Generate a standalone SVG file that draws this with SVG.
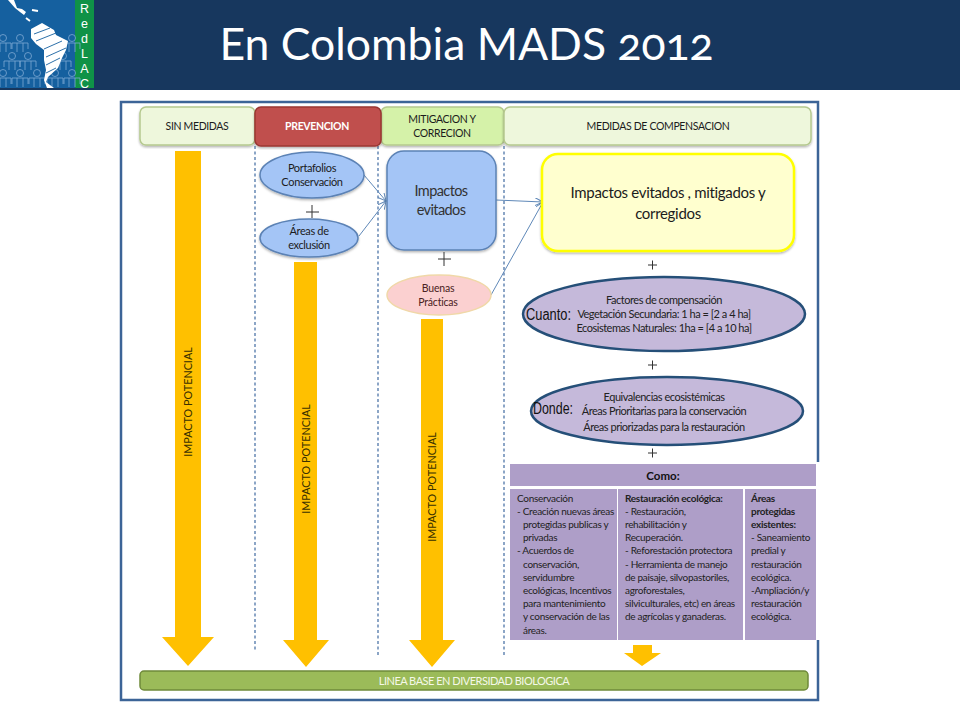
<svg xmlns="http://www.w3.org/2000/svg" width="960" height="720" viewBox="0 0 960 720">
<style>
text{font-family:"Lato","Carlito","Open Sans",sans-serif;fill:#1c1c1c;text-anchor:middle}
.h{font-size:10.500px;letter-spacing:-.35px}
.n{font-size:11px;letter-spacing:-.35px}
.s{font-size:10px;letter-spacing:-.3px;text-anchor:start;fill:#222}
.o{font-size:11px;letter-spacing:-.48px;fill:#222}
.big{font-size:14.500px;letter-spacing:-.6px;fill:#333}
.lab{font-family:"Liberation Sans",Arial,sans-serif;font-size:16px;text-anchor:start;fill:#111}
.v{font-size:10.800px;fill:#3a3000}
.plus{fill:none;stroke:#333;stroke-width:1}
.band{fill:#eef7dc;stroke:#b5c98e;stroke-width:1.5}
.sep{stroke:#4f76a8;stroke-width:1.3;stroke-dasharray:3 2.5;fill:none}
.con{stroke:#5f88b8;stroke-width:1;fill:none;marker-end:url(#a)}
.arr{fill:#ffc000}
.blue{fill:#a4c5f6;stroke:#5b82b5;stroke-width:1.5}
.pur{fill:#c5b9da;stroke:#254f78;stroke-width:2.5}
.cell{fill:#ae9ec8}
.logo{font-family:"Liberation Sans",Arial,sans-serif;font-size:12.500px;fill:#fff}
.p{fill:none;stroke:#7fa9d4;stroke-width:.8}
</style>
<defs>
<marker id="a" markerWidth="10" markerHeight="10" refX="8" refY="4" orient="auto" markerUnits="userSpaceOnUse"><path d="M0 0L8 4L0 8" fill="none" stroke="#5f88b8" stroke-width="1"/></marker>
<filter id="sh" x="-5%" y="-5%" width="110%" height="115%"><feDropShadow dx="0" dy="1.5" stdDeviation="1" flood-color="#000" flood-opacity=".3"/></filter>
<g id="man"><circle cx="0" cy="0" r="3.500"/><path d="M-8 5H8M-8 5V11M8 5V11M-3 5V14M3 5V14"/></g>
</defs>
<rect width="960" height="720" fill="#fff"/>
<rect width="960" height="90" fill="#17375e"/>

<g id="logo">
<rect width="75" height="88" fill="#15609f"/>
<rect x="75" width="19" height="88" fill="#0f9247"/>
<g class="p">
<use href="#man" x="3" y="38"/><use href="#man" x="20" y="38"/><use href="#man" x="72" y="38"/><use href="#man" x="12" y="56"/><use href="#man" x="28" y="56"/><use href="#man" x="63" y="56"/><use href="#man" x="3" y="73"/><use href="#man" x="20" y="73"/><use href="#man" x="37" y="73"/><use href="#man" x="55" y="73"/><use href="#man" x="72" y="73"/>
</g>
<path d="M8 0L15 8L20 12L24 15L26 12L22 9L17 8L14 0Z" fill="#fff"/>
<path d="M32 10L38 11M26 18L30 21" stroke="#fff" stroke-width="2"/>
<path d="M31 29L42 23L54 30L56 35L68 41L66 50L62 58L58 68L48 77L46 82L54 88H47L44 80L46 70L44 60L44 50L36 44L31 38Z" fill="#fff"/>
<path d="M34 34L50 28M36 41L56 33M44 49L62 41M46 57L66 48M46 65L60 58M46 73L56 68" stroke="#15609f" stroke-width=".9" fill="none"/>
<text class="logo" x="84.500" y="13">R</text><text class="logo" x="84.500" y="28">e</text><text class="logo" x="84.500" y="43">d</text><text class="logo" x="84.500" y="58">L</text><text class="logo" x="84.500" y="73">A</text><text class="logo" x="84.500" y="88">C</text>
</g>
<text x="466.500" y="60" style="font-size:44.500px;fill:#fff;font-variant-numeric:oldstyle-nums">En Colombia MADS 2012</text>

<path d="M818 462V102H121V700H818V640" fill="none" stroke="#3c6497" stroke-width="2.500"/>

<g id="separators">
<path class="sep" d="M255 146V652"/>
<path class="sep" d="M378 146V656"/>
<path class="sep" d="M504 146V656"/>
</g>

<g id="sin-medidas"><rect class="band" x="140" y="107" width="115" height="38" rx="6" filter="url(#sh)"/><text class="h" x="197" y="130">SIN MEDIDAS</text></g>
<g id="mitigacion"><rect x="381" y="107" width="123" height="38" rx="6" fill="#d5f2a9" stroke="#b5c98e" stroke-width="1.500" filter="url(#sh)"/><text class="h" x="442" y="123">MITIGACION Y</text><text class="h" x="442" y="137">CORRECION</text></g>
<g id="compensacion"><rect class="band" x="504" y="107" width="307" height="38" rx="6" filter="url(#sh)"/><text class="h" x="658" y="130">MEDIDAS DE COMPENSACION</text></g>
<g id="prevencion"><rect x="255" y="107" width="126" height="39" rx="6" fill="#c0504d" stroke="#9a3633" stroke-width="1.500" filter="url(#sh)"/><text class="h" x="317" y="130" style="fill:#fff;font-weight:700">PREVENCION</text></g>

<g id="arrow-1"><path class="arr" d="M175 151H201V637H214L188 666L162 637H175Z"/><text class="v" transform="translate(192 402) rotate(-90)">IMPACTO POTENCIAL</text></g>
<g id="arrow-2"><path class="arr" d="M294 262H317V640H329L306 667L283 640H294Z"/><text class="v" transform="translate(310 459) rotate(-90)">IMPACTO POTENCIAL</text></g>
<g id="arrow-3"><path class="arr" d="M421 319H443V640H455L432 667L409 640H421Z"/><text class="v" transform="translate(436 487) rotate(-90)">IMPACTO POTENCIAL</text></g>
<g id="arrow-4"><path class="arr" d="M633 645H652V653H661L642 666L624 653H633Z"/></g>

<g id="connectors">
<path class="con" d="M364 175L386 201"/>
<path class="con" d="M359 236L386 201"/>
<path class="con" d="M496 200L543 202"/>
<path class="con" d="M491 295L543 202"/>
</g>

<g id="portafolios"><ellipse class="blue" cx="312" cy="175" rx="52" ry="23" filter="url(#sh)"/><text class="n" x="312" y="172">Portafolios</text><text class="n" x="312" y="186">Conservación</text></g>
<path class="plus" d="M306 212H319M312 205V218"/>
<g id="areas"><ellipse class="blue" cx="309" cy="238" rx="49" ry="19" filter="url(#sh)"/><text class="n" x="309" y="235">Áreas de</text><text class="n" x="309" y="249">exclusión</text></g>
<g id="impactos"><rect class="blue" x="387" y="151" width="109" height="99" rx="17" filter="url(#sh)"/><text class="big" x="441" y="196">Impactos</text><text class="big" x="441" y="215">evitados</text></g>
<path class="plus" d="M438 259H451M444 252V266"/>
<g id="buenas"><ellipse cx="439" cy="295" rx="52" ry="20" fill="#fbd0d0" stroke="#f0d8a8" stroke-width="1.500"/><text x="438" y="292" style="font-size:10.500px;letter-spacing:-.2px;fill:#4a2222">Buenas</text><text x="438" y="306" style="font-size:10.500px;letter-spacing:-.2px;fill:#4a2222">Prácticas</text></g>
<g id="evitados"><rect x="542" y="154" width="252" height="97" rx="16" fill="#ffffcf" stroke="#ffff00" stroke-width="2.500" filter="url(#sh)"/><text x="668" y="198" style="font-size:15px;letter-spacing:-.32px">Impactos evitados , mitigados y</text><text x="668" y="219" style="font-size:15px;letter-spacing:-.32px">corregidos</text></g>
<path class="plus" d="M648 265H657M652.500 260.500V269.500"/>
<g id="cuanto"><ellipse class="pur" cx="664" cy="314" rx="141" ry="37"/><text class="o" x="664" y="304">Factores de compensación</text><text class="o" x="664" y="318">Vegetación Secundaria: 1 ha = [2 a 4 ha]</text><text class="o" x="664" y="332">Ecosistemas Naturales: 1ha = [4 a 10 ha]</text><text class="lab" x="526" y="320" textLength="45" lengthAdjust="spacingAndGlyphs">Cuanto:</text></g>
<path class="plus" d="M648 365H657M652.500 360.500V369.500"/>
<g id="donde"><ellipse class="pur" cx="667" cy="411" rx="136" ry="34"/><text class="o" x="664" y="401">Equivalencias ecosistémicas</text><text class="o" x="664" y="415">Áreas Prioritarias para la conservación</text><text class="o" x="664" y="431">Áreas priorizadas para la restauración</text><text class="lab" x="533" y="414" textLength="40" lengthAdjust="spacingAndGlyphs">Donde:</text></g>
<path class="plus" d="M648 453H657M652.500 448.500V457.500"/>

<g id="como"><rect class="cell" x="510" y="464" width="306" height="22"/><text x="663" y="480" style="font-size:11.500px;font-weight:700;fill:#111">Como:</text>
<rect class="cell" x="510" y="489" width="107" height="151"/><rect class="cell" x="618" y="489" width="125" height="151"/><rect class="cell" x="745" y="489" width="71" height="151"/>
<text class="s"><tspan x="517" y="502">Conservación</tspan><tspan x="517" y="515">-  Creación nuevas áreas</tspan><tspan x="523" y="528">protegidas publicas y</tspan><tspan x="523" y="541">privadas</tspan><tspan x="517" y="554">-  Acuerdos de</tspan><tspan x="523" y="568">conservación,</tspan><tspan x="523" y="581">servidumbre</tspan><tspan x="523" y="594">ecológicas, Incentivos</tspan><tspan x="523" y="607">para  mantenimiento</tspan><tspan x="523" y="620">y conservación de las</tspan><tspan x="523" y="634">áreas.</tspan></text>
<text class="s"><tspan x="625" y="502" font-weight="700">Restauración ecológica:</tspan><tspan x="625" y="515">-  Restauración,</tspan><tspan x="625" y="528">rehabilitación y</tspan><tspan x="625" y="541">Recuperación.</tspan><tspan x="625" y="554">- Reforestación protectora</tspan><tspan x="625" y="568">- Herramienta de manejo</tspan><tspan x="625" y="581">de paisaje,  silvopastoriles,</tspan><tspan x="625" y="594">agroforestales,</tspan><tspan x="625" y="607">silviculturales, etc) en áreas</tspan><tspan x="625" y="620">de agrícolas y ganaderas.</tspan></text>
<text class="s"><tspan x="751" y="502" font-weight="700">Áreas</tspan><tspan x="751" y="515" font-weight="700">protegidas</tspan><tspan x="751" y="528" font-weight="700">existentes:</tspan><tspan x="751" y="541">- Saneamiento</tspan><tspan x="751" y="554">predial y</tspan><tspan x="751" y="568">restauración</tspan><tspan x="751" y="581">ecológica.</tspan><tspan x="751" y="594">-Ampliación/y</tspan><tspan x="751" y="607">restauración</tspan><tspan x="751" y="620">ecológica.</tspan></text>
</g>

<g id="linea-base"><rect x="140" y="671" width="668" height="19" rx="4" fill="#9bbb59" stroke="#6f8a3a" stroke-width="1.500"/><text x="474" y="685" style="font-size:11px;letter-spacing:-.5px;fill:#f4f8e8">LINEA BASE EN DIVERSIDAD BIOLOGICA</text></g>
</svg>
